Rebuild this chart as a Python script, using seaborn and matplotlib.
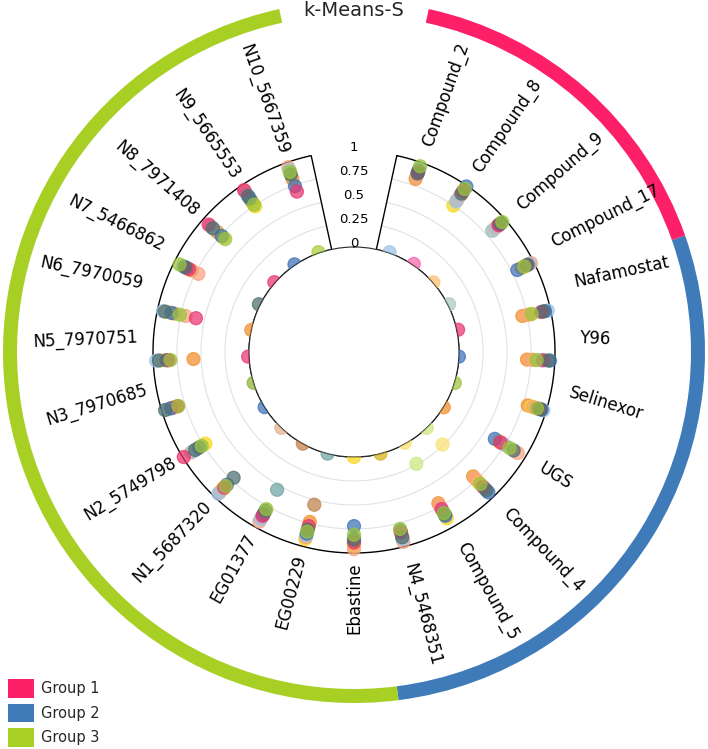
import numpy as np
import pandas as pd
import matplotlib
matplotlib.use("Agg")
import matplotlib.pyplot as plt
from matplotlib.patches import Patch
from matplotlib.transforms import offset_copy
import seaborn as sns

sns.set_style("white")
plt.rcParams['font.family'] = ['DejaVu Sans']

# ---------------- data ----------------
categories = ["Compound_2", "Compound_8", "Compound_9", "Compound_17",
              "Nafamostat", "Y96", "Selinexor", "UGS", "Compound_4",
              "Compound_5", "N4_5468351", "Ebastine", "EG00229", "EG01377",
              "N1_5687320", "N2_5749798", "N3_7970685", "N5_7970751",
              "N6_7970059", "N7_5466862", "N8_7971408", "N9_5665553",
              "N10_5667359"]
group_names = ["Group 1", "Group 2", "Group 3"]
group_sizes = [4, 7, 12]
group_colors = ["#FD1F68", "#3F7AB9", "#A7CF24"]

series_names = ["orange", "yellow", "salmon", "lightblue", "blue", "crimson", "teal", "lime"]
series_colors = ["#F28E2B", "#F9D71C", "#F9A27E", "#9DC3E6", "#3C72B4", "#E8336D", "#4E6E6E", "#9BC53D"]

s_orange    = [0.82, 0.88, 0.90, 0.86, 0.70, 0.71, 0.80, 0.72, 0.70, 0.71, 0.90, 0.90, 0.735, 0.88, 0.88, 0.82, 0.88, 0.58, 0.82, 0.80, 0.80, 0.80, 0.82]
s_yellow    = [0.90, 0.75, 0.83, 0.90, 0.78, 0.78, 0.84, 0.68, 0.78, 0.89, 0.88, 0.93, 0.92, 0.85, 0.90, 0.725, 0.86, 0.90, 0.90, 0.85, 0.72, 0.74, 0.90]
s_salmon    = [0.86, 0.82, 0.87, 0.97, 0.75, 0.76, 0.86, 0.91, 0.74, 0.74, 0.95, 0.96, 0.90, 0.93, 0.93, 0.90, 0.90, 0.85, 0.70, 0.72, 0.90, 0.93, 0.95]
s_lightblue = [0.93, 0.80, 0.82, 0.95, 0.97, 0.86, 0.97, 0.75, 0.88, 0.80, 0.92, 0.84, 0.88, 0.90, 0.95, 0.88, 0.93, 0.97, 0.94, 0.90, 0.88, 0.90, 0.92]
s_blue      = [0.91, 0.99, 0.92, 0.81, 0.94, 0.95, 0.95, 0.63, 0.93, 0.86, 0.83, 0.72, 0.86, 0.84, 0.82, 0.80, 0.90, 0.86, 0.85, 0.86, 0.74, 0.84, 0.74]
s_crimson   = [0.89, 0.93, 0.91, 0.92, 0.90, 0.88, 0.92, 0.70, 0.85, 0.78, 0.85, 0.89, 0.78, 0.86, 0.86, 0.99, 0.83, 0.84, 0.59, 0.83, 0.92, 0.945, 0.68]
s_teal      = [0.88, 0.90, 0.94, 0.93, 0.92, 0.93, 0.94, 0.86, 0.90, 0.84, 0.90, 0.86, 0.82, 0.80, 0.72, 0.85, 0.965, 0.94, 0.92, 0.88, 0.86, 0.87, 0.87]
s_lime      = [0.96, 0.96, 0.96, 0.89, 0.80, 0.81, 0.90, 0.81, 0.81, 0.83, 0.81, 0.81, 0.84, 0.78, 0.84, 0.77, 0.82, 0.82, 0.76, 0.94, 0.69, 0.76, 0.90]

inner_values = [0.01, 0.015, 0.005, 0.015, 0.015, 0.0, 0.005, 0.005, 0.0, -0.01, 0.0, 0.0,
                0.0, 0.0, 0.0, 0.0, 0.0, 0.01, 0.0, 0.015, 0.01, 0.01, 0.01]
inner_colors = ["#9DC3E6", "#F564A9", "#FDBF6F", "#A8C8C3", "#E8336D", "#3C72B4", "#9BC53D",
                "#F28E2B", "#CDE77F", "#F9E271", "#D4B21C", "#F9D71C", "#6FA3A3", "#C0804A",
                "#E3B18F", "#3C72B4", "#8DB33A", "#E8336D", "#F28E2B", "#4E6E6E", "#E8336D",
                "#3C72B4", "#A6CE39"]

extra_cats = ["Compound_4", "Compound_5", "EG00229", "EG01377"]
extra_values = [0.24, 0.24, 0.55, 0.55]
extra_colors = ["#F9E271", "#CDE77F", "#C0804A", "#6FA3A3"]

tick_values = [0, 0.25, 0.5, 0.75, 1]
tick_labels = ["0", "0.25", "0.5", "0.75", "1"]
title = "k-Means-S"

# ---------------- geometry ----------------
W, H = 708, 749
CX, CY = 354, 352          # centre in pixels (from top)
R_AX = 352                 # axes radius in pixels
R0, R1 = 105, 201          # pixel radius of value 0 and 1
PX = R1 - R0               # pixels per unit value
THETA_MIN, THETA_MAX = 12.3, 347.7
MS = 88

n = len(categories)
step = (THETA_MAX - THETA_MIN) / n
cat_theta_deg = {c: THETA_MIN + (i + 0.5) * step for i, c in enumerate(categories)}
cat_theta = {c: np.deg2rad(t) for c, t in cat_theta_deg.items()}

def v_of(px):
    return (px - R0) / PX

fig = plt.figure(figsize=(W / 100, H / 100), dpi=100)
ax = fig.add_axes([(CX - R_AX) / W, (H - CY - R_AX) / H, 2 * R_AX / W, 2 * R_AX / H],
                  projection="polar")
ax.set_theta_zero_location("N")
ax.set_theta_direction(-1)
ax.set_rorigin(-R0 / PX)

# grid arcs
arc = np.deg2rad(np.linspace(THETA_MIN, THETA_MAX, 400))
for gv in [0.25, 0.5, 0.75]:
    ax.plot(arc, np.full_like(arc, gv), color="#e2e2e2", lw=0.8, zorder=1)

# sector outline
outline_t = np.concatenate([arc, arc[::-1], arc[:1]])
outline_r = np.concatenate([np.ones_like(arc), np.zeros_like(arc), [1.0]])
ax.plot(outline_t, outline_r, color="black", lw=1.0, zorder=2)

# main series points
frames = []
all_series = [s_orange, s_yellow, s_salmon, s_lightblue, s_blue, s_crimson, s_teal, s_lime]
for name, vals in zip(series_names, all_series):
    frames.append(pd.DataFrame({"theta": [cat_theta[c] for c in categories],
                                "value": vals, "series": name}))
df = pd.concat(frames, ignore_index=True)
sns.scatterplot(data=df, x="theta", y="value", hue="series", hue_order=series_names,
                palette=dict(zip(series_names, series_colors)), s=MS, alpha=0.72,
                edgecolor="face", linewidth=0.9, legend=False, ax=ax, zorder=3)

# inner (self) points
df_in = pd.DataFrame({"theta": [cat_theta[c] for c in categories],
                      "value": inner_values, "cat": categories})
sns.scatterplot(data=df_in, x="theta", y="value", hue="cat", hue_order=categories,
                palette=dict(zip(categories, inner_colors)), s=MS, alpha=0.72,
                edgecolor="face", linewidth=0.9, legend=False, ax=ax, zorder=3)

# extra points
df_ex = pd.DataFrame({"theta": [cat_theta[c] for c in extra_cats],
                      "value": extra_values, "k": [str(i) for i in range(len(extra_cats))]})
sns.scatterplot(data=df_ex, x="theta", y="value", hue="k",
                palette=dict(zip(df_ex["k"], extra_colors)), s=MS, alpha=0.72,
                edgecolor="face", linewidth=0.9, legend=False, ax=ax, zorder=3)

# group ring
start = 0
for gname, gsize, gcol in zip(group_names, group_sizes, group_colors):
    t0 = np.deg2rad(THETA_MIN + start * step)
    wdt = np.deg2rad(gsize * step)
    ax.bar(t0, v_of(351) - v_of(337), width=wdt, bottom=v_of(337), align="edge",
           color=gcol, edgecolor="none", zorder=2)
    start += gsize

# category labels (near-horizontal labels sit a little higher, as in the reference)
for c in categories:
    td = cat_theta_deg[c]
    if td < 179.9:
        rot, ha, sx, rpx = 90 - td, "left", 1, 219
    else:
        rot, ha, sx, rpx = 270 - td, "right", -1, 210
    k = float(np.clip((32 - abs(rot)) / 12, 0, 1))
    tr = offset_copy(ax.transData, fig=fig, x=sx * 6 * k, y=24 * k, units="dots")
    ax.text(cat_theta[c], v_of(rpx), c, rotation=rot, rotation_mode="anchor",
            ha=ha, va="center", fontsize=12, color="black", transform=tr)

# radial tick labels in the gap
for tv, tl in zip(tick_values, tick_labels):
    ax.text(0, tv + 0.04, tl, ha="center", va="center", fontsize=9.5, color="black")

ax.set_ylim(0, v_of(R_AX))
ax.set_xticks([])
ax.set_yticks([])
ax.grid(False)
ax.set_xlabel("")
ax.set_ylabel("")
ax.spines["polar"].set_visible(False)
ax.patch.set_visible(False)

fig.text(CX / W, 1 - 11 / H, title, ha="center", va="center", fontsize=14)

handles = [Patch(facecolor=c, edgecolor="none") for c in group_colors]
fig.legend(handles, group_names, loc="lower left", bbox_to_anchor=(8 / W, 2 / H),
           frameon=False, fontsize=10.5, handlelength=1.75, handleheight=1.6,
           labelspacing=0.4, handletextpad=0.5, borderpad=0, borderaxespad=0)

fig.savefig("out.png", dpi=100)
